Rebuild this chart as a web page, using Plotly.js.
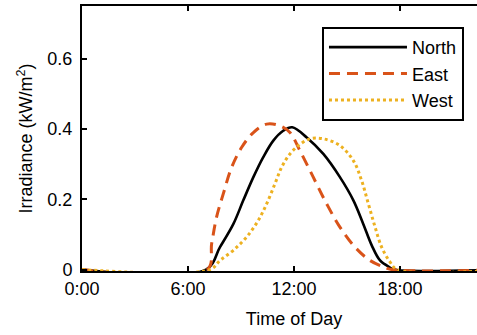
<!DOCTYPE html>
<html>
<head>
<meta charset="utf-8">
<script src="https://cdn.plot.ly/plotly-3.0.1.min.js"></script>
<style>
html, body { margin:0; padding:0; overflow:hidden; background:#fff; }
#chart { width:520px; height:335px; }
</style>
</head>
<body>
<div id="chart"></div>
<script>
// Time of day (hours) and irradiance (kW/m^2)
const northHours = [0, 7.02, 7.81, 8.57, 9.13, 9.70, 10.26, 10.83, 11.39, 11.9, 12.72, 13.66, 14.6, 15.36, 15.92, 16.4, 16.87, 17.43, 17.65, 24];
const northVals  = [0, 0, 0.064, 0.13, 0.197, 0.263, 0.32, 0.367, 0.395, 0.405, 0.376, 0.329, 0.263, 0.197, 0.13, 0.069, 0.026, 0.006, 0, 0];

const eastHours = [0, 7.09, 7.34, 7.62, 8.0, 8.47, 9.04, 9.70, 10.45, 11.2, 11.77, 12.34, 13.09, 13.85, 14.6, 15.45, 16.3, 17.05, 17.53, 24];
const eastVals  = [0, 0, 0.074, 0.15, 0.216, 0.291, 0.348, 0.39, 0.414, 0.409, 0.39, 0.338, 0.263, 0.187, 0.121, 0.064, 0.026, 0.008, 0, 0];

const westHours = [0, 7.24, 7.81, 8.57, 9.32, 9.98, 10.45, 10.92, 11.3, 11.77, 12.3, 12.9, 13.66, 14.6, 15.36, 15.83, 16.21, 16.59, 16.96, 17.43, 17.85, 24];
const westVals  = [0, 0, 0.026, 0.055, 0.093, 0.14, 0.187, 0.244, 0.291, 0.329, 0.355, 0.372, 0.372, 0.353, 0.31, 0.253, 0.187, 0.121, 0.064, 0.022, 0, 0];

const xTickVals = [0, 6, 12, 18, 24];
const xTickText = ['0:00', '6:00', '12:00', '18:00', '24:00'];
const yTickVals = [0, 0.2, 0.4, 0.6];
const yTickText = ['0', '0.2', '0.4', '0.6'];

const font = {family: '"Liberation Sans", Arial, Helvetica, sans-serif', size: 18, color: '#000'};

const traces = [
  {x: northHours, y: northVals, name: 'North', mode: 'lines', line: {color: '#000000', width: 2.6, shape: 'spline', smoothing: 1}},
  {x: eastHours, y: eastVals, name: 'East', mode: 'lines', line: {color: '#D95319', width: 3, dash: '11px,7px', shape: 'spline', smoothing: 1}},
  {x: westHours, y: westVals, name: 'West', mode: 'lines', line: {color: '#EDB120', width: 3, dash: '3px,3px', shape: 'spline', smoothing: 1}}
];

const layout = {
  width: 520, height: 335,
  margin: {l: 82, r: 14, t: 6, b: 64},
  paper_bgcolor: '#fff', plot_bgcolor: '#fff',
  font: font,
  showlegend: true,
  legend: {x: 0.566, y: 0.921, xanchor: 'left', yanchor: 'top', bgcolor: '#fff',
           bordercolor: '#000', borderwidth: 2, font: font, itemwidth: 78,
           tracegroupgap: 0},
  xaxis: {
    range: [0, 24], tickvals: xTickVals, ticktext: xTickText,
    showgrid: false, zeroline: false, showline: true, linecolor: '#000', linewidth: 2,
    mirror: 'ticks', ticks: 'inside', ticklen: 5, tickwidth: 2, tickcolor: '#000',
    tickfont: font, title: {text: 'Time of Day', font: font, standoff: 15}
  },
  yaxis: {
    range: [-0.004, 0.75], tickvals: yTickVals, ticktext: yTickText,
    showgrid: false, zeroline: false, showline: true, linecolor: '#000', linewidth: 2,
    mirror: 'ticks', ticks: 'inside', ticklen: 5, tickwidth: 2, tickcolor: '#000',
    tickfont: font, ticklabelstandoff: 4,
    title: {text: 'Irradiance (kW/m<sup>2</sup>)', font: font, standoff: 10}
  }
};

Plotly.newPlot('chart', traces, layout, {displayModeBar: false, staticPlot: true});
</script>
</body>
</html>
